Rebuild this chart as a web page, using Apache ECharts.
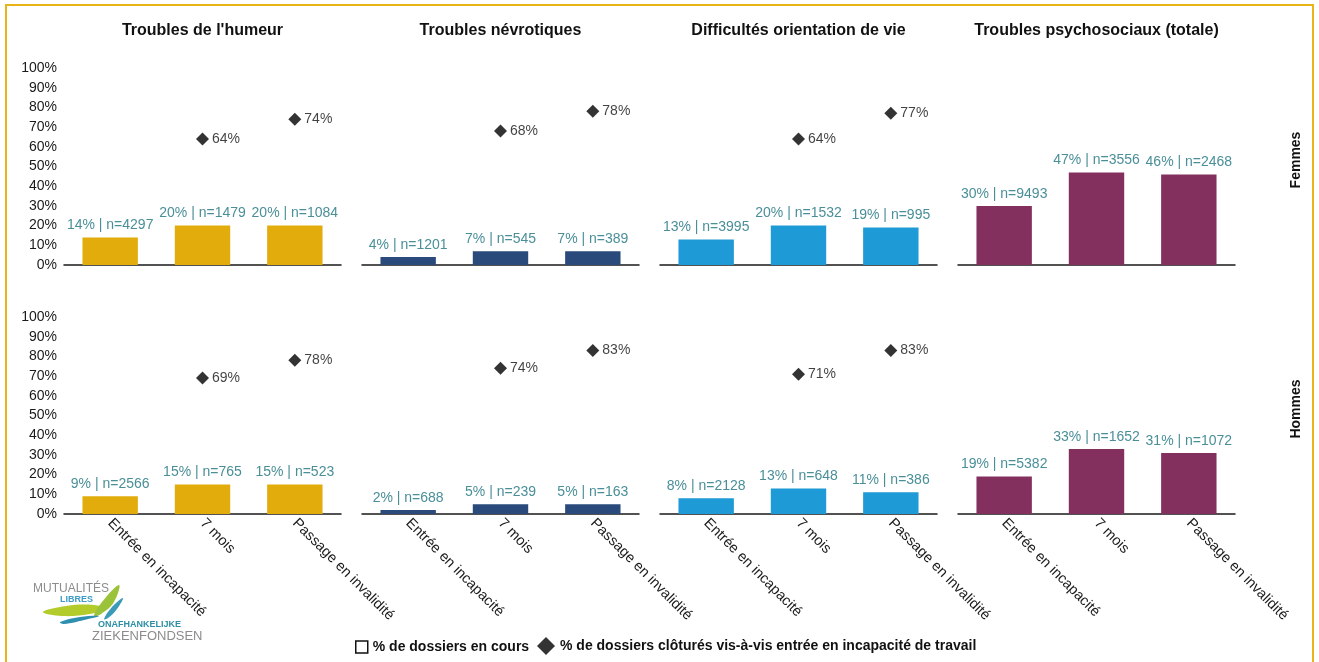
<!DOCTYPE html>
<html>
<head>
<meta charset="utf-8">
<script src="https://cdn.jsdelivr.net/npm/echarts@6/dist/echarts.min.js"></script>
<style>
  html, body { margin: 0; padding: 0; background: #ffffff; }
  #chart { width: 1319px; height: 662px; }
</style>
</head>
<body>
<div id="chart"></div>
<script>
// Categories and panel titles
const categories = ['Entrée en incapacité', '7 mois', 'Passage en invalidité'];
const panelTitles = ['Troubles de l\'humeur', 'Troubles névrotiques', 'Difficultés orientation de vie', 'Troubles psychosociaux (totale)'];
const rowNames = ['Femmes', 'Hommes'];
const yTicks = [0, 10, 20, 30, 40, 50, 60, 70, 80, 90, 100];

// Femmes: % de dossiers en cours, effectifs, % de dossiers clôturés
const femmesHumeurPct = [14, 20, 20];
const femmesHumeurN = [4297, 1479, 1084];
const femmesHumeurClos = ['-', 64, 74];
const femmesNevroPct = [4, 7, 7];
const femmesNevroN = [1201, 545, 389];
const femmesNevroClos = ['-', 68, 78];
const femmesOrientPct = [13, 20, 19];
const femmesOrientN = [3995, 1532, 995];
const femmesOrientClos = ['-', 64, 77];
const femmesTotalPct = [30, 47, 46];
const femmesTotalN = [9493, 3556, 2468];

// Hommes
const hommesHumeurPct = [9, 15, 15];
const hommesHumeurN = [2566, 765, 523];
const hommesHumeurClos = ['-', 69, 78];
const hommesNevroPct = [2, 5, 5];
const hommesNevroN = [688, 239, 163];
const hommesNevroClos = ['-', 74, 83];
const hommesOrientPct = [8, 13, 11];
const hommesOrientN = [2128, 648, 386];
const hommesOrientClos = ['-', 71, 83];
const hommesTotalPct = [19, 33, 31];
const hommesTotalN = [5382, 1652, 1072];

const panelColors = ['#E1AC0C', '#2B4A7C', '#1E9AD6', '#84305E'];
const legendBars = '% de dossiers en cours';
const legendClos = '% de dossiers clôturés vis-à-vis entrée en incapacité de travail';

const panels = [
  [
    { pct: femmesHumeurPct, n: femmesHumeurN, clos: femmesHumeurClos },
    { pct: femmesNevroPct, n: femmesNevroN, clos: femmesNevroClos },
    { pct: femmesOrientPct, n: femmesOrientN, clos: femmesOrientClos },
    { pct: femmesTotalPct, n: femmesTotalN, clos: null }
  ],
  [
    { pct: hommesHumeurPct, n: hommesHumeurN, clos: hommesHumeurClos },
    { pct: hommesNevroPct, n: hommesNevroN, clos: hommesNevroClos },
    { pct: hommesOrientPct, n: hommesOrientN, clos: hommesOrientClos },
    { pct: hommesTotalPct, n: hommesTotalN, clos: null }
  ]
];

const FONT = '"Liberation Sans", Arial, sans-serif';
const GRID_LEFT0 = 64, GRID_STEP = 298, GRID_W = 277;
const GRID_TOP0 = 68, ROW_STEP = 249, GRID_H = 197;

const grids = [], xAxes = [], yAxes = [], series = [], titles = [];

for (let c = 0; c < 4; c++) {
  titles.push({
    text: panelTitles[c],
    left: GRID_LEFT0 + GRID_STEP * c + GRID_W / 2,
    top: 23,
    textAlign: 'center',
    padding: 0,
    textStyle: { fontFamily: FONT, fontSize: 16, fontWeight: 'bold', color: '#111' }
  });
}

let idx = 0;
for (let r = 0; r < 2; r++) {
  for (let c = 0; c < 4; c++) {
    const p = panels[r][c];
    grids.push({
      left: GRID_LEFT0 + GRID_STEP * c,
      top: GRID_TOP0 + ROW_STEP * r,
      width: GRID_W,
      height: GRID_H
    });
    xAxes.push({
      type: 'category',
      gridIndex: idx,
      data: categories,
      axisTick: { show: false },
      axisLine: { lineStyle: { color: '#1a1a1a', width: 1.5 } },
      axisLabel: {
        show: r === 1,
        interval: 0,
        rotate: -45,
        margin: 7,
        fontFamily: FONT,
        fontSize: 14.5,
        color: '#1a1a1a'
      }
    });
    yAxes.push({
      type: 'value',
      gridIndex: idx,
      min: yTicks[0],
      max: yTicks[yTicks.length - 1],
      interval: 10,
      splitLine: { show: false },
      axisLine: { show: false },
      axisTick: { show: false },
      axisLabel: {
        show: c === 0,
        margin: 7,
        fontFamily: FONT,
        fontSize: 14,
        color: '#1a1a1a',
        formatter: '{value}%'
      }
    });
    const nVals = p.n;
    series.push({
      name: legendBars,
      type: 'bar',
      xAxisIndex: idx,
      yAxisIndex: idx,
      barWidth: '60%',
      data: p.pct,
      itemStyle: { color: panelColors[c] },
      label: {
        show: true,
        position: 'top',
        distance: 5,
        fontFamily: FONT,
        fontSize: 14,
        color: '#4A8F98',
        formatter: (d) => d.value + '% | n=' + nVals[d.dataIndex]
      },
      emphasis: { disabled: true },
      silent: true
    });
    if (p.clos) {
      series.push({
        name: legendClos,
        type: 'scatter',
        xAxisIndex: idx,
        yAxisIndex: idx,
        symbol: 'diamond',
        symbolSize: 13,
        data: p.clos,
        itemStyle: { color: '#000' },
        label: {
          show: true,
          position: 'right',
          distance: 3,
          fontFamily: FONT,
          fontSize: 14,
          color: '#111',
          formatter: '{c}%'
        },
        emphasis: { disabled: true },
        silent: true
      });
    }
    idx++;
  }
}

// Logo of the mutual fund, drawn with simple shapes and text
const logo = [
  { type: 'text', left: 33, top: 583, style: { text: 'MUTUALITÉS', font: '12px ' + FONT, fill: '#8C8C8C' } },
  { type: 'text', left: 60, top: 595, style: { text: 'LIBRES', font: 'bold 9px ' + FONT, fill: '#3C9CC6' } },
  { type: 'polygon', shape: { points: [[43, 612], [66, 606], [94, 605], [105, 609], [90, 614], [62, 616]], smooth: 0.4 }, style: { fill: '#B4CB2C' } },
  { type: 'polygon', shape: { points: [[94, 616], [102, 602], [119, 585], [114, 602], [101, 614]], smooth: 0.4 }, style: { fill: '#9BC33A' } },
  { type: 'polygon', shape: { points: [[104, 619], [112, 607], [123, 598], [117, 609], [108, 618]], smooth: 0.4 }, style: { fill: '#3A9BB8' } },
  { type: 'polygon', shape: { points: [[60, 622], [80, 617], [99, 616], [84, 620], [64, 624]], smooth: 0.4 }, style: { fill: '#2E8FB0' } },
  { type: 'text', left: 98, top: 620, style: { text: 'ONAFHANKELIJKE', font: 'bold 9px ' + FONT, fill: '#2D8FA5' } },
  { type: 'text', left: 92, top: 630, style: { text: 'ZIEKENFONDSEN', font: '13px ' + FONT, fill: '#8C8C8C' } }
];

const legendText = { fontFamily: FONT, fontSize: 14, fontWeight: 'bold', color: '#111' };

const option = {
  backgroundColor: '#ffffff',
  animation: false,
  title: titles,
  grid: grids,
  xAxis: xAxes,
  yAxis: yAxes,
  series: series,
  legend: [
    {
      top: 635,
      left: 350,
      selectedMode: false,
      itemWidth: 12,
      itemHeight: 12,
      textStyle: legendText,
      data: [
        { name: legendBars, icon: 'rect', itemStyle: { color: '#ffffff', borderColor: '#111', borderWidth: 1.5 } }
      ]
    },
    {
      top: 632,
      left: 532,
      selectedMode: false,
      itemWidth: 18,
      itemHeight: 18,
      textStyle: legendText,
      data: [
        { name: legendClos, icon: 'diamond', itemStyle: { color: '#000' } }
      ]
    }
  ],
  graphic: [
    { type: 'rect', z: -1, shape: { x: 6, y: 5, width: 1307, height: 700 }, style: { fill: 'none', stroke: '#E9B516', lineWidth: 2 } },
    { type: 'text', x: 1296, y: 160, rotation: Math.PI / 2, style: { text: rowNames[0], font: 'bold 14px ' + FONT, fill: '#111', align: 'center', verticalAlign: 'middle' } },
    { type: 'text', x: 1296, y: 409, rotation: Math.PI / 2, style: { text: rowNames[1], font: 'bold 14px ' + FONT, fill: '#111', align: 'center', verticalAlign: 'middle' } }
  ].concat(logo)
};

const chart = echarts.init(document.getElementById('chart'), null, { renderer: 'canvas' });
chart.setOption(option);
</script>
</body>
</html>
